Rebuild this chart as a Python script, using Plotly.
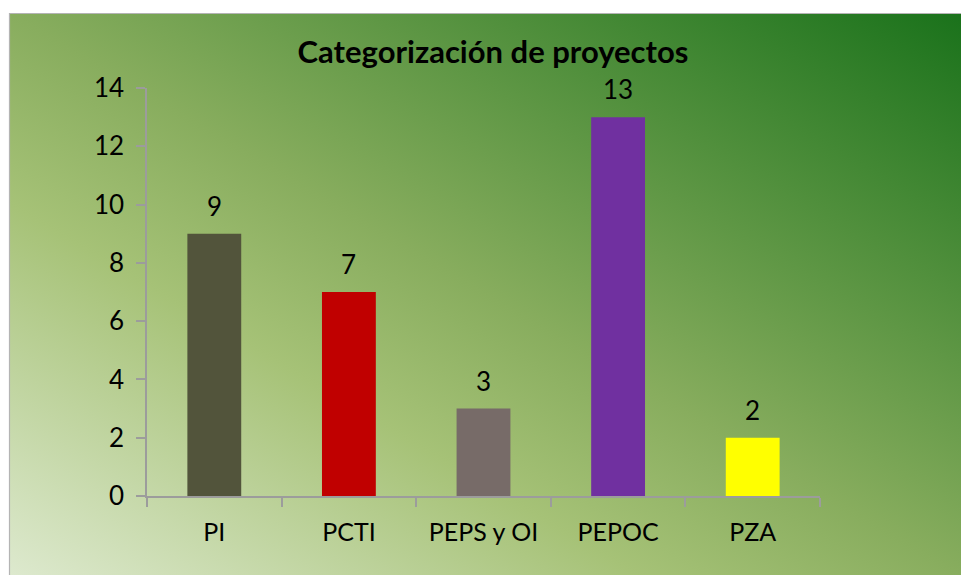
import base64
import plotly.graph_objects as go

# Project counts per category
categories = ["PI", "PCTI", "PEPS y OI", "PEPOC", "PZA"]
counts = [9, 7, 3, 13, 2]
bar_colors = ["#52543b", "#c00000", "#776b68", "#7030a0", "#ffff00"]
y_ticks = [0, 2, 4, 6, 8, 10, 12, 14]

W, H = 961, 575
# plot area in pixels
PL, PR, PT, PB = 147, 820, 88, 496
pw, ph = PR - PL, PB - PT


def px_to_paper_x(px):
    return (px - PL) / pw


def px_to_paper_y(py):
    return (PB - py) / ph


# diagonal green gradient for the chart background
svg = """<svg xmlns='http://www.w3.org/2000/svg' width='952' height='562' preserveAspectRatio='none'>
<defs><linearGradient id='g' x1='0' y1='1' x2='1' y2='0'>
<stop offset='0' stop-color='#dde9ce'/>
<stop offset='0.33' stop-color='#a6c277'/>
<stop offset='0.5' stop-color='#88ad5e'/>
<stop offset='1' stop-color='#1a721b'/>
</linearGradient></defs>
<rect x='0' y='0' width='952' height='562' fill='url(#g)'/>
</svg>"""
svg_uri = "data:image/svg+xml;base64," + base64.b64encode(svg.encode()).decode()

FONT = "Lato, 'Open Sans', sans-serif"

fig = go.Figure(
    go.Bar(
        x=categories,
        y=counts,
        marker=dict(color=bar_colors, line=dict(width=0)),
        width=0.4,
        hoverinfo="x+y",
    )
)

# value labels above the bars
for cat, val in zip(categories, counts):
    fig.add_annotation(
        x=cat, y=val, text=str(val), showarrow=False,
        yanchor="middle", yshift=28,
        font=dict(family=FONT, size=26, color="#000000"),
    )

fig.add_layout_image(
    source=svg_uri, xref="paper", yref="paper",
    x=px_to_paper_x(9), y=px_to_paper_y(13),
    sizex=px_to_paper_x(W) - px_to_paper_x(9),
    sizey=px_to_paper_y(13) - px_to_paper_y(H),
    xanchor="left", yanchor="top", sizing="stretch", layer="below",
)

# outer frame border
fig.add_shape(
    type="rect", xref="paper", yref="paper",
    x0=px_to_paper_x(9.5), y0=px_to_paper_y(H + 5),
    x1=px_to_paper_x(W + 5), y1=px_to_paper_y(13.5),
    line=dict(color="#b4b4b4", width=1.2), fillcolor="rgba(0,0,0,0)",
    layer="above",
)

fig.update_layout(
    width=W, height=H,
    margin=dict(l=PL, r=W - PR, t=PT, b=H - PB, pad=0),
    paper_bgcolor="#ffffff",
    plot_bgcolor="rgba(0,0,0,0)",
    showlegend=False,
    title=dict(
        text="<b>Categorización de proyectos</b>",
        x=px_to_paper_x(493), xref="paper", xanchor="center",
        y=1 - 52 / H, yref="container", yanchor="middle",
        font=dict(family=FONT, size=31, color="#000000"),
    ),
    xaxis=dict(
        type="category",
        tickson="boundaries",
        ticks="outside", ticklen=9, tickwidth=1.5, tickcolor="#9c9c9c",
        showline=True, linecolor="#9c9c9c", linewidth=1.5,
        showgrid=False, zeroline=False,
        tickfont=dict(family=FONT, size=25, color="#000000"),
        ticklabelstandoff=13,
        range=[-0.5, 4.5],
    ),
    yaxis=dict(
        range=[0, 14], tickvals=y_ticks,
        ticks="outside", ticklen=9, tickwidth=1.5, tickcolor="#9c9c9c",
        showline=True, linecolor="#9c9c9c", linewidth=1.5,
        showgrid=False, zeroline=False,
        tickfont=dict(family=FONT, size=26, color="#000000"),
        ticklabelstandoff=7,
    ),
)

fig.write_html("out.html")
